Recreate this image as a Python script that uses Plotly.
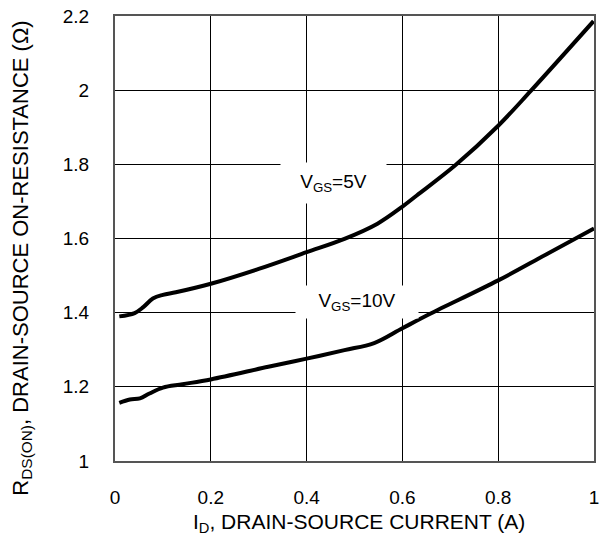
import plotly.graph_objects as go

# V_GS = 5V curve
x5 = [0.009, 0.041, 0.059, 0.079, 0.10, 0.127, 0.2, 0.30, 0.40, 0.479, 0.548, 0.60, 0.63, 0.711, 0.80, 0.868, 0.999]
y5 = [1.390, 1.399, 1.415, 1.438, 1.448, 1.455, 1.478, 1.518, 1.563, 1.599, 1.640, 1.686, 1.716, 1.798, 1.904, 1.998, 2.186]

# V_GS = 10V curve
x10 = [0.009, 0.031, 0.052, 0.072, 0.10, 0.141, 0.2, 0.32, 0.40, 0.479, 0.541, 0.60, 0.658, 0.80, 0.90, 1.0]
y10 = [1.157, 1.166, 1.169, 1.182, 1.198, 1.207, 1.220, 1.254, 1.276, 1.299, 1.318, 1.358, 1.397, 1.487, 1.557, 1.627]

xticks = [0, 0.2, 0.4, 0.6, 0.8, 1]
xticklabels = ["0", "0.2", "0.4", "0.6", "0.8", "1"]
yticks = [1, 1.2, 1.4, 1.6, 1.8, 2, 2.2]
yticklabels = ["1", "1.2", "1.4", "1.6", "1.8", "2", "2.2"]

FONT = "Liberation Sans, Arial, sans-serif"

fig = go.Figure()
fig.add_trace(go.Scatter(x=x5, y=y5, mode="lines", line=dict(color="black", width=4, shape="spline"), showlegend=False))
fig.add_trace(go.Scatter(x=x10, y=y10, mode="lines", line=dict(color="black", width=4, shape="spline"), showlegend=False))

fig.add_annotation(x=0.457, y=1.751, text="V<sub>GS</sub>=5V", showarrow=False,
                   font=dict(family=FONT, size=19, color="black"), bgcolor="white",
                   width=101, height=36, borderpad=2)
fig.add_annotation(x=0.505, y=1.428, text="V<sub>GS</sub>=10V", showarrow=False,
                   font=dict(family=FONT, size=19, color="black"), bgcolor="white",
                   width=118, height=28, borderpad=2)

# axis titles as annotations for exact placement
fig.add_annotation(xref="paper", yref="paper", x=0.51, y=-0.139,
                   xanchor="center", yanchor="middle",
                   text="I<sub>D</sub>, DRAIN-SOURCE CURRENT (A)", showarrow=False,
                   font=dict(family=FONT, size=21, color="black"))
fig.add_annotation(xref="paper", yref="paper", x=-0.196, y=0.455, textangle=-90,
                   xanchor="center", yanchor="middle",
                   text="R<sub>DS(ON)</sub>, DRAIN-SOURCE ON-RESISTANCE (Ω)", showarrow=False,
                   font=dict(family=FONT, size=22, color="black"))

fig.update_layout(
    width=605, height=544,
    margin=dict(l=115, r=6, t=15, b=83),
    paper_bgcolor="white", plot_bgcolor="white",
    font=dict(family=FONT, size=19, color="black"),
)
fig.update_xaxes(
    range=[0, 1], tickvals=xticks, ticktext=xticklabels,
    showgrid=True, gridcolor="black", gridwidth=1,
    showline=True, linecolor="#555555", linewidth=2, mirror=True,
    ticks="", ticklabelstandoff=18, zeroline=False,
    tickfont=dict(size=19),
)
fig.update_yaxes(
    range=[1, 2.2], tickvals=yticks, ticktext=yticklabels,
    showgrid=True, gridcolor="black", gridwidth=1,
    showline=True, linecolor="#555555", linewidth=2, mirror=True,
    ticks="", ticklabelstandoff=20, zeroline=False,
    tickfont=dict(size=19),
)

fig.write_html("out.html")
